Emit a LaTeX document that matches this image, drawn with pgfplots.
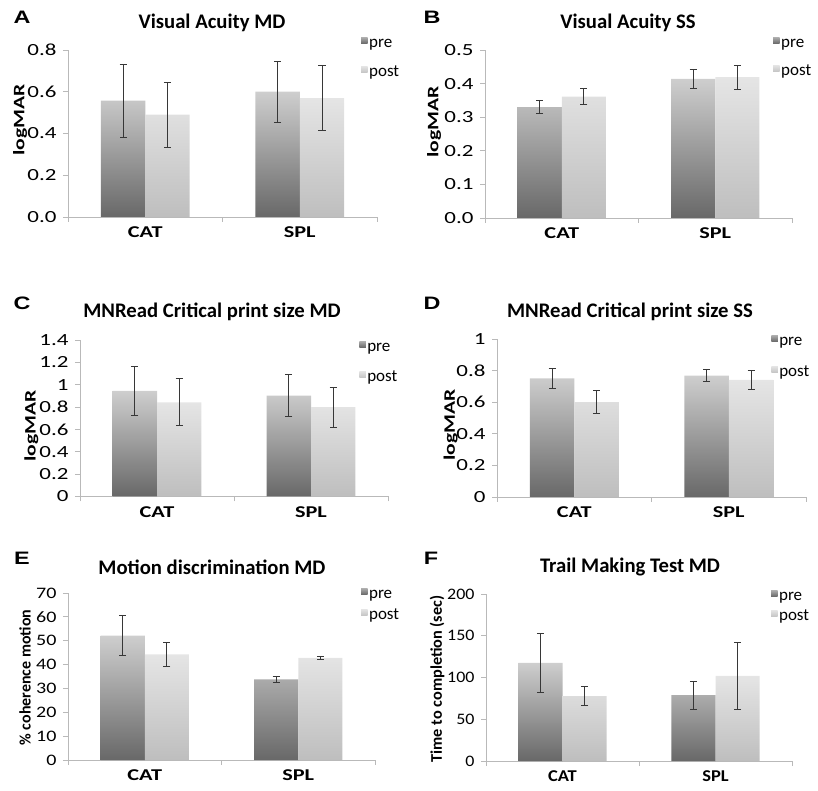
\documentclass[border=0pt]{standalone}
\usepackage{pgfplots}
\pgfplotsset{compat=1.18}
\usepackage{fontspec}
\setmainfont{Carlito}
\newfontfamily\wfont[FakeStretch=1.35]{Carlito}
\newfontfamily\wfontE[FakeStretch=1.25]{Carlito}
\newfontfamily\wfontF[FakeStretch=1.12]{Carlito}
\newfontfamily\letterfont[FakeStretch=1.3]{Liberation Sans}
\definecolor{preBot}{RGB}{104,104,104}
\definecolor{preTop}{RGB}{206,206,206}
\definecolor{postBot}{RGB}{190,190,190}
\definecolor{postTop}{RGB}{229,229,229}
\definecolor{axisgray}{RGB}{185,185,185}
\definecolor{errgray}{RGB}{55,55,55}
\newcommand\tfont{\fontsize{20.7bp}{24bp}\selectfont\bfseries}
\newcommand\lfont{\letterfont\fontsize{18bp}{20bp}\selectfont\bfseries}

\pgfplotsset{
  panel/.style={
    scale only axis, xmin=0, xmax=2, ymin=0,
    axis x line*=bottom, axis y line*=left,
    axis line style={draw=axisgray, line width=0.9bp},
    every tick/.style={draw=axisgray, line width=0.9bp},
    tick align=outside, major tick length=5bp,
    xtick={0,1,2}, xticklabels={},
    extra x ticks={0.5,1.5}, extra x tick labels={CAT,SPL},
    extra x tick style={major tick length=0pt, tick label style={yshift=-6.5bp}},
    yticklabel style={xshift=-3bp},
    /pgf/number format/assume math mode=true,
    clip=false,
    legend cell align=left,
    legend style={draw=none, fill=none, inner sep=0pt,
      font=\fontsize{17bp}{20bp}\selectfont,
      nodes={inner sep=1.5bp, text height=11bp, text depth=3bp}},
  },
  prebar/.style={ybar, bar width=0.288, bar shift=-0.144, draw=none,
    top color=preTop, bottom color=preBot,
    legend image code/.code={\shade[top color=preTop!70!preBot, bottom color=preBot] (0bp,0bp) rectangle (6.5bp,6.5bp);}},
  postbar/.style={ybar, bar width=0.288, bar shift=0.144, draw=none,
    top color=postTop, bottom color=postBot,
    legend image code/.code={\shade[top color=postTop, bottom color=postBot!90!white] (0bp,0bp) rectangle (6.5bp,6.5bp);}},
  errs/.style={draw=none, no markers, forget plot,
    error bars/.cd, y dir=both, y explicit,
    error bar style={draw=errgray, line width=0.85bp},
    error mark options={draw=errgray, rotate=90, mark size=3.5bp, line width=0.85bp}},
}

\begin{document}
\begin{tikzpicture}
\useasboundingbox (0,0) rectangle (818bp,791bp);

% ---------------- A ----------------
\begin{axis}[panel, at={(68bp,574bp)}, anchor=south west,
  width=309bp, height=167bp, ymax=0.8, ytick={0,0.2,...,0.8},
  yticklabel style={font=\wfont\fontsize{17bp}{20bp}\selectfont,
    /pgf/number format/.cd, fixed, fixed zerofill, precision=1},
  x tick label style={font=\wfont\fontsize{16.5bp}{19bp}\selectfont\bfseries},
  ylabel={logMAR}, ylabel style={font=\wfont\fontsize{16bp}{19bp}\selectfont\bfseries,
    at={(axis description cs:-0.155,0.581)}, anchor=center},
  legend style={at={(axis description cs:0.948,0.952)}, anchor=west, row sep=12bp}]
\addplot[prebar] coordinates {(0.5,0.557) (1.5,0.600)};
\addplot[postbar] coordinates {(0.5,0.490) (1.5,0.570)};
\addplot[errs] coordinates {(0.356,0.557) +- (0,0.176) (1.356,0.600) +- (0,0.147)
  (0.644,0.490) +- (0,0.157) (1.644,0.570) +- (0,0.154)};
\legend{pre,post}
\end{axis}

% ---------------- B ----------------
\begin{axis}[panel, at={(485bp,573bp)}, anchor=south west,
  width=307bp, height=168bp, ymax=0.5, ytick={0,0.1,...,0.5},
  yticklabel style={font=\wfont\fontsize{17bp}{20bp}\selectfont,
    /pgf/number format/.cd, fixed, fixed zerofill, precision=1},
  x tick label style={font=\wfont\fontsize{16.5bp}{19bp}\selectfont\bfseries},
  ylabel={logMAR}, ylabel style={font=\wfont\fontsize{16bp}{19bp}\selectfont\bfseries,
    at={(axis description cs:-0.166,0.571)}, anchor=center},
  legend style={at={(axis description cs:0.938,0.955)}, anchor=west, row sep=11bp}]
\addplot[prebar] coordinates {(0.5,0.330) (1.5,0.414)};
\addplot[postbar] coordinates {(0.5,0.361) (1.5,0.419)};
\addplot[errs] coordinates {(0.356,0.330) +- (0,0.019) (1.356,0.414) +- (0,0.028)
  (0.644,0.361) +- (0,0.024) (1.644,0.419) +- (0,0.035)};
\legend{pre,post}
\end{axis}

% ---------------- C ----------------
\begin{axis}[panel, at={(80bp,294.5bp)}, anchor=south west,
  width=308bp, height=156.5bp, ymax=1.4, ytick={0,0.2,...,1.4},
  yticklabel style={font=\wfont\fontsize{17bp}{20bp}\selectfont,
    /pgf/number format/.cd, fixed, precision=1},
  x tick label style={font=\wfont\fontsize{16.5bp}{19bp}\selectfont\bfseries},
  ylabel={logMAR}, ylabel style={font=\wfont\fontsize{16bp}{19bp}\selectfont\bfseries,
    at={(axis description cs:-0.158,0.452)}, anchor=center},
  legend style={at={(axis description cs:0.906,0.856)}, anchor=west, row sep=13bp}]
\addplot[prebar] coordinates {(0.5,0.944) (1.5,0.902)};
\addplot[postbar] coordinates {(0.5,0.842) (1.5,0.800)};
\addplot[errs] coordinates {(0.356,0.944) +- (0,0.22) (1.356,0.902) +- (0,0.19)
  (0.644,0.842) +- (0,0.21) (1.644,0.800) +- (0,0.18)};
\legend{pre,post}
\end{axis}

% ---------------- D ----------------
\begin{axis}[panel, at={(497bp,294bp)}, anchor=south west,
  width=309bp, height=158bp, ymax=1, ytick={0,0.2,...,1},
  yticklabel style={font=\wfont\fontsize{17bp}{20bp}\selectfont,
    /pgf/number format/.cd, fixed, precision=1},
  x tick label style={font=\wfont\fontsize{16.5bp}{19bp}\selectfont\bfseries},
  ylabel={logMAR}, ylabel style={font=\wfont\fontsize{16bp}{19bp}\selectfont\bfseries,
    at={(axis description cs:-0.15,0.456)}, anchor=center},
  legend style={at={(axis description cs:0.887,0.886)}, anchor=west, row sep=14bp}]
\addplot[prebar] coordinates {(0.5,0.751) (1.5,0.768)};
\addplot[postbar] coordinates {(0.5,0.601) (1.5,0.741)};
\addplot[errs] coordinates {(0.356,0.751) +- (0,0.062) (1.356,0.768) +- (0,0.037)
  (0.644,0.601) +- (0,0.072) (1.644,0.741) +- (0,0.059)};
\legend{pre,post}
\end{axis}

% ---------------- E ----------------
\begin{axis}[panel, at={(68bp,31bp)}, anchor=south west,
  width=307bp, height=167bp, ymax=70, ytick={0,10,...,70},
  yticklabel style={font=\wfontE\fontsize{16bp}{19bp}\selectfont},
  x tick label style={font=\wfont\fontsize{16.5bp}{19bp}\selectfont\bfseries},
  ylabel={\% coherence motion}, ylabel style={font=\fontsize{16bp}{19bp}\selectfont\bfseries,
    at={(axis description cs:-0.14,0.494)}, anchor=center},
  legend style={at={(axis description cs:0.954,0.928)}, anchor=west, row sep=4bp}]
\addplot[prebar] coordinates {(0.5,52.1) (1.5,33.8)};
\addplot[postbar] coordinates {(0.5,44.3) (1.5,42.8)};
\addplot[errs] coordinates {(0.356,52.1) +- (0,8.3) (1.356,33.8) +- (0,1.1)
  (0.644,44.3) +- (0,5.0) (1.644,42.8) +- (0,0.75)};
\legend{pre,post}
\end{axis}

% ---------------- F ----------------
\begin{axis}[panel, at={(486bp,30bp)}, anchor=south west,
  width=306bp, height=167bp, ymax=200, ytick={0,50,...,200},
  yticklabel style={font=\wfontF\fontsize{16bp}{19bp}\selectfont},
  x tick label style={font=\wfontF\fontsize{16.5bp}{19bp}\selectfont\bfseries},
  ylabel={Time to completion (sec)}, ylabel style={font=\fontsize{16.3bp}{19bp}\selectfont\bfseries,
    at={(axis description cs:-0.16,0.491)}, anchor=center},
  legend style={at={(axis description cs:0.931,0.925)}, anchor=west, row sep=3bp}]
\addplot[prebar] coordinates {(0.5,117.6) (1.5,79.0)};
\addplot[postbar] coordinates {(0.5,77.7) (1.5,102.0)};
\addplot[errs] coordinates {(0.356,117.6) +- (0,35) (1.356,79.0) +- (0,16.8)
  (0.644,77.7) +- (0,11.4) (1.644,102.0) +- (0,39.7)};
\legend{pre,post}
\end{axis}

% titles and panel letters
\node[font=\tfont] at (212bp,768bp) {Visual Acuity MD};
\node[font=\tfont] at (628bp,768bp) {Visual Acuity SS};
\node[font=\tfont] at (212bp,479bp) {MNRead Critical print size MD};
\node[font=\tfont] at (630bp,479bp) {MNRead Critical print size SS};
\node[font=\tfont] at (212bp,224bp) {Motion discrimination MD};
\node[font=\tfont] at (630bp,224bp) {Trail Making Test MD};
\node[font=\lfont] at (22bp,774bp) {A};
\node[font=\lfont] at (432bp,774bp) {B};
\node[font=\lfont] at (22bp,488bp) {C};
\node[font=\lfont] at (432bp,488bp) {D};
\node[font=\lfont] at (22bp,233bp) {E};
\node[font=\lfont] at (431bp,233bp) {F};
\end{tikzpicture}
\end{document}
